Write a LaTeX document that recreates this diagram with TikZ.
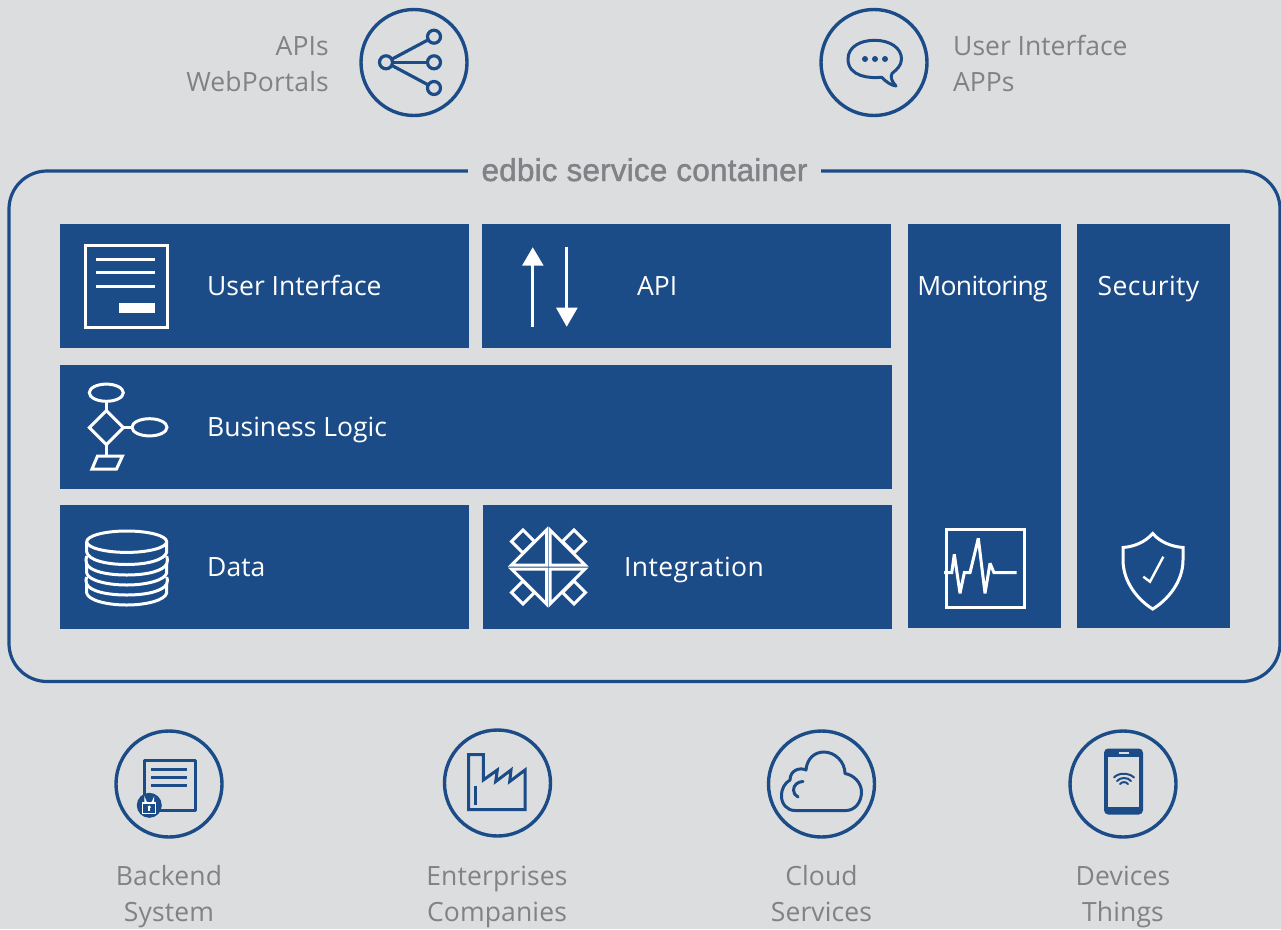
\documentclass[tikz,border=0pt]{standalone}
\usepackage{fontspec}
\setmainfont{Open Sans}
\newfontfamily\titlefont[FakeBold=1.5,LetterSpace=0.6]{Liberation Sans}
\definecolor{bg}{HTML}{DCDDDE}
\definecolor{blue}{HTML}{1C4C87}
\definecolor{gr}{HTML}{808285}
\newcommand{\ls}[1]{\addfontfeature{LetterSpace=#1}}
\tikzset{
 x=1pt,y=-1pt,
 panel/.style={fill=blue,draw=none,anchor=north west,inner sep=0pt,outer sep=0pt},
 lbl/.style={text=white,font=\fontsize{26.5}{32}\selectfont,inner sep=0pt,anchor=base west},
 glbl/.style={text=gr,font=\fontsize{26.5}{36}\selectfont\ls{0.5},inner sep=0pt,align=center},
 ring/.style={draw=blue,line width=3.4pt,circle,minimum size=106pt,inner sep=0pt,outer sep=0pt},
 bi/.style={draw=blue,line width=3pt,line join=round},
 wi/.style={draw=white,line width=3pt},
 dot/.style={circle,draw=blue,line width=3.2pt,minimum size=13pt,inner sep=0pt,outer sep=0pt},
}
\newcommand{\panelbox}[5]{\node[panel,minimum width=#4pt-#2pt,minimum height=#5pt-#3pt] (#1) at (#2,#3) {};}
\begin{document}
\begin{tikzpicture}
\useasboundingbox (0,0) rectangle (1281,929);
\fill[bg] (0,0) rectangle (1281,929);
% container
\node[draw=blue,line width=3.2pt,rounded corners=38pt,minimum width=1271pt,minimum height=510.5pt,anchor=north west,inner sep=0pt,outer sep=0pt] (container) at (9,171) {};
\node[fill=bg,text=gr,font=\titlefont\fontsize{31.5}{36}\selectfont,inner xsep=14pt,inner ysep=4pt,anchor=base] (title) at (644.5,181) {edbic service container};
% panels
\panelbox{ui}{60}{224}{469}{348}
\panelbox{api}{482}{224}{891}{348}
\panelbox{logic}{60}{365}{892}{489}
\panelbox{data}{60}{505}{469}{629}
\panelbox{integ}{483}{505}{892}{629}
\panelbox{mon}{908}{224}{1061}{628}
\panelbox{sec}{1077}{224}{1230}{628}
\node[lbl] (tui) at (207,295) {User Interface};
\node[lbl] (tapi) at (637,295) {API};
\node[lbl] (tlogic) at (207,436) {Business Logic};
\node[lbl] (tdata) at (207,576) {Data};
\node[lbl] (tinteg) at (624,576) {\ls{1.5}Integration};
\node[lbl,anchor=base] (tmon) at (982.5,295) {\ls{-2.6}Monitoring};
\node[lbl,anchor=base] (tsec) at (1148.5,295) {\ls{1.7}Security};
% outer labels
\node[glbl,anchor=base east,align=right] (apis) at (329,91) {APIs\\WebPortals};
\node[glbl,anchor=base west,align=left,font=\fontsize{26.5}{36}\selectfont] (uiapps) at (953,91) {User Interface\\APPs};
\node[glbl,anchor=base] (backend) at (169,921) {Backend\\System};
\node[glbl,anchor=base] (ent) at (497,921) {Enterprises\\Companies};
\node[glbl,anchor=base] (cloud) at (821.5,921) {Cloud\\Services};
\node[glbl,anchor=base] (dev) at (1123,921) {Devices\\Things};
% rings
\node[ring] (r1) at (414,62.5) {};
\node[ring] (r2) at (874,62.5) {};
\node[ring] (r3) at (169,784) {};
\node[ring] (r4) at (497.5,783) {};
\node[ring] (r5) at (821.5,784) {};
\node[ring] (r6) at (1123,784) {};
% share icon
\node[dot] (s0) at (386,62.3) {};
\node[dot] (s1) at (434,36.7) {};
\node[dot] (s2) at (434,62.3) {};
\node[dot] (s3) at (434,88) {};
\draw[blue,line width=3.2pt] (s0) -- (s1);
\draw[blue,line width=3.2pt] (s0) -- (s2);
\draw[blue,line width=3.2pt] (s0) -- (s3);
% chat icon
\draw[bi] (881.7,77.3) .. controls (870,78.5) and (848,77) .. (848,59) .. controls (848,47) and (860,40.3) .. (874.7,40.3) .. controls (890,40.3) and (901.5,48) .. (901.5,59) .. controls (901.5,66) and (896,70) .. (892,73.5) .. controls (890,77) and (892,82) .. (896,86) .. controls (891,85.5) and (885,81) .. (881.7,77.3) -- cycle;
\foreach \xx in {865,875,885} \fill[blue] (\xx,59) circle (3);
% UI icon
\draw[wi] (85,245) rectangle (167.7,327.3);
\foreach \yy in {259.5,272.7,286} \draw[wi] (96,\yy) -- (155,\yy);
\fill[white] (119,303) rectangle (155,313);
% API arrows
\draw[white,line width=3pt] (532.7,326.7) -- (532.7,262);
\fill[white] (532.7,247.3) -- (522,265.7) -- (543.7,265.7) -- cycle;
\draw[white,line width=3pt] (566.7,246.7) -- (566.7,310);
\fill[white] (566.7,326.7) -- (556,307.7) -- (577.7,307.7) -- cycle;
% Business logic icon
\draw[wi] (106.3,392.7) ellipse (17 and 8.6);
\draw[wi] (106.3,410.6) -- (123.3,427.6) -- (106.3,444.6) -- (89.3,427.6) -- cycle;
\draw[wi] (149.5,427.3) ellipse (17.5 and 8.6);
\draw[wi] (106.3,401.3) -- (106.3,410.6);
\draw[wi] (123.3,427.6) -- (132,427.6);
\draw[wi] (106.3,444.6) -- (106.3,456);
\draw[wi] (97.5,456) -- (122.5,456) -- (116.5,469) -- (92,469) -- cycle;
% Data icon
\begin{scope}[wi,line join=round]
\draw (126.7,541.7) ellipse (40 and 10.7);
\draw (86.7,541.7) -- (86.7,552) .. controls (88,560) and (106,564.5) .. (126.7,564.5) .. controls (147,564.5) and (165,560) .. (166.7,552) -- (166.7,541.7);
\draw (86.7,556) .. controls (85.7,559) and (85.7,561) .. (86.7,564) .. controls (90,571) and (106,575) .. (126.7,575) .. controls (147,575) and (163,571) .. (166.7,564) .. controls (167.7,561) and (167.7,559) .. (166.7,556);
\draw (86.7,564) -- (86.7,573) .. controls (88,580) and (106,585) .. (126.7,585) .. controls (147,585) and (165,580) .. (166.7,573) -- (166.7,564);
\draw (86.7,577) .. controls (85.7,579) and (85.7,581) .. (86.7,584) .. controls (90,591) and (106,595) .. (126.7,595) .. controls (147,595) and (163,591) .. (166.7,584) .. controls (167.7,581) and (167.7,579) .. (166.7,577);
\draw (86.7,584) -- (86.7,593) .. controls (88,600) and (106,605) .. (126.7,605) .. controls (147,605) and (165,600) .. (166.7,593) -- (166.7,584);
\end{scope}
% Integration icon
\begin{scope}[wi,line join=miter]
\draw (546.5,530) -- (546.5,565) -- (511.5,565) -- cycle;
\draw (550.1,530) -- (550.1,565) -- (585.1,565) -- cycle;
\draw (546.5,604) -- (546.5,569) -- (511.5,569) -- cycle;
\draw (550.1,604) -- (550.1,569) -- (585.1,569) -- cycle;
\draw (523,530) -- (534.5,541.5) -- (523,553) -- (511.5,541.5) -- cycle;
\draw (574,530) -- (585.5,541.5) -- (574,553) -- (562.5,541.5) -- cycle;
\draw (523,581) -- (534.5,592.5) -- (523,604) -- (511.5,592.5) -- cycle;
\draw (574,581) -- (585.5,592.5) -- (574,604) -- (562.5,592.5) -- cycle;
\end{scope}
% Monitor icon
\draw[wi] (946,529.5) rectangle (1024,607);
\draw[wi,line join=miter,miter limit=3] (944,572.7) -- (951.7,572.7) -- (954.3,554.3) -- (960,593.3) -- (964.3,572.7) -- (970,572.7) -- (978.3,538.3) -- (985,593.3) -- (990,563.3) -- (994,572.7) -- (1016.7,572.7);
% Shield icon
\draw[wi,line join=miter] (1152.7,533.5) .. controls (1145,542) and (1135,546.5) .. (1123,547.5) -- (1123,560) .. controls (1123,582) and (1138,600) .. (1152.7,609) .. controls (1167.5,600) and (1183,582) .. (1183,560) -- (1183,547.5) .. controls (1171,546.5) and (1160,542) .. (1152.7,533.5) -- cycle;
\draw[wi,line width=2.4pt] (1143.3,576.7) -- (1150,581.7) -- (1163.3,556.7);
% Backend icon
\draw[bi] (144.3,760.3) rectangle (195.5,810.5);
\foreach \yy in {769.3,777.3,785.3} \draw[blue,line width=3pt] (151,\yy) -- (187,\yy);
\fill[blue] (149.3,805.3) circle (12.5);
\draw[white,line width=1.1pt] (142.8,803) rectangle (155.8,813.5);
\draw[white,line width=1.1pt] (145,803) -- (145,799) arc[start angle=180,end angle=0,radius=4.3] -- (153.6,803);
\fill[white] (149.3,807) circle (1.7);
\fill[white] (148.4,807) rectangle (150.2,811);
% Factory icon
\draw[bi,line join=miter] (468.5,754.5) -- (483.3,754.5) -- (483.3,780) -- (497.3,770) -- (495.7,781.5) -- (511,770) -- (509.7,781.5) -- (525,770) -- (525,809.5) -- (468.5,809.5) -- cycle;
\draw[blue,line width=3pt] (475,785.7) -- (475,805);
% Cloud icon
\draw[bi] (795,810.5) -- (846,810.5) .. controls (855,810.5) and (861.5,802) .. (861.5,792) .. controls (861.5,783) and (854,775) .. (845,773.5) .. controls (845,762) and (835,752) .. (824,752) .. controls (815,752) and (807,758) .. (806,770) .. controls (800,767) and (790,770) .. (790,780) .. controls (785,783) and (781.5,788) .. (781.5,796) .. controls (781.5,804) and (787,810.5) .. (795,810.5) -- cycle;
\draw[bi,line cap=round] (803,781.5) .. controls (798,781.5) and (793.5,785) .. (793.5,790) .. controls (793.5,793) and (795,795.5) .. (798,797);
% Phone icon
\draw[blue,line width=3pt,fill=blue,rounded corners=3pt] (1105.5,750) rectangle (1141.5,813);
\fill[bg] (1107.7,756.7) rectangle (1139.3,806.7);
\draw[bg,line width=1.3pt] (1118.5,753) -- (1129,753);
\draw[blue,line width=2pt,line cap=round] (1114,777.5) .. controls (1118,772.5) and (1129,772.5) .. (1134,777.5);
\draw[blue,line width=2pt,line cap=round] (1117,781) .. controls (1120,777) and (1128,777) .. (1131,781);
\draw[blue,line width=2pt,line cap=round] (1120,784) .. controls (1122,781.5) and (1126,781.5) .. (1128,784);
\end{tikzpicture}
\end{document}
